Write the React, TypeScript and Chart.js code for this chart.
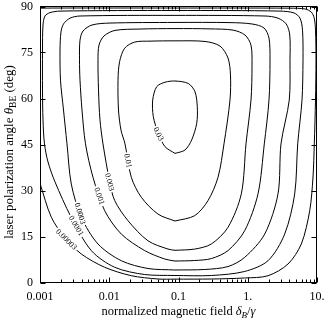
import React, { useEffect, useRef } from 'react';
import { Chart, registerables } from 'chart.js';
Chart.register(...registerables);

// contour levels (innermost first)
const levels = ['0.03', '0.01', '0.003', '0.001', '0.0003', '0.0001', '0.00003'];

// traced contour paths: x = normalized magnetic field, y = angle (deg)
const c1X = [0.089, 0.1241, 0.1551, 0.1832, 0.1868, 0.1731, 0.1385, 0.089, 0.0638, 0.04845, 0.04241, 0.04326, 0.05109, 0.0638, 0.089];
const c1Y = [42.1, 43.2, 46.5, 51.9, 57.3, 62.2, 64.9, 65.7, 65.3, 63.85, 59.5, 54.1, 48.65, 44.3, 42.1];

const c2X = [0.089, 0.1714, 0.2667, 0.3719, 0.4539, 0.5542, 0.563, 0.5186, 0.3975, 0.2414, 0.089, 0.03876, 0.0233, 0.0167, 0.0141, 0.01338, 0.0136, 0.01478, 0.01688, 0.02082, 0.02904, 0.05058, 0.089];
const c2Y = [20.05, 21.8, 26.7, 34.3, 45.2, 59.5, 67.7, 73.2, 77.1, 78.6, 78.8, 78.7, 78.4, 76.4, 72.0, 66.0, 56.25, 49.7, 45.2, 34.3, 27.8, 22.3, 20.05];

const c3X = [0.089, 0.1714, 0.2976, 0.5186, 0.8071, 0.9434, 1.114, 1.152, 1.114, 0.9127, 0.6127, 0.2851, 0.089, 0.0278, 0.01211, 0.0084, 0.00711, 0.00688, 0.006995, 0.00735, 0.008123, 0.01015, 0.01199, 0.01866, 0.03627, 0.07053, 0.089];
const c3Y = [10.5, 10.9, 12.55, 18.0, 28.9, 45.2, 59.5, 70.9, 77.4, 80.7, 82.3, 82.7, 82.8, 82.65, 82.2, 80.4, 77.4, 72.6, 62.8, 53.0, 45.2, 32.8, 26.7, 20.15, 13.6, 10.9, 10.5];

const c4X = [0.089, 0.1714, 0.2976, 0.5186, 0.9035, 1.406, 1.734, 2.027, 2.096, 2.027, 1.717, 1.152, 0.5542, 0.089, 0.01025, 0.005636, 0.004178, 0.003781, 0.003719, 0.003781, 0.004041, 0.004539, 0.005826, 0.0086, 0.01493, 0.0325, 0.06318, 0.089];
const c4Y = [7.0, 7.17, 7.8, 10.4, 16.9, 28.9, 45.2, 59.5, 72.6, 79.7, 83.0, 84.3, 84.75, 84.8, 84.6, 83.97, 82.0, 79.0, 72.6, 66.0, 56.25, 45.2, 34.3, 23.4, 15.8, 10.4, 7.66, 7.0];

const c5X = [0.089, 0.239, 0.5186, 0.9035, 1.757, 2.734, 3.02, 3.975, 4.074, 4.041, 3.597, 2.734, 1.774, 0.089, 0.003781, 0.002712, 0.002185, 0.00201, 0.001945, 0.001977, 0.002185, 0.002454, 0.002831, 0.003948, 0.006879, 0.01493, 0.03627, 0.089];
const c5Y = [4.08, 4.24, 5.2, 8.2, 15.8, 28.9, 45.2, 59.5, 72.6, 80.7, 84.3, 86.2, 86.9, 87.1, 86.9, 86.2, 84.3, 81.7, 75.8, 66.0, 56.25, 45.2, 32.1, 21.3, 12.55, 7.1, 4.56, 4.08];

const c6X = [0.089, 0.2976, 0.9035, 1.96, 3.416, 4.764, 5.264, 6.074, 6.279, 6.176, 5.682, 4.654, 2.922, 0.089, 0.001945, 0.001394, 0.00118, 0.001105, 0.001087, 0.001087, 0.001105, 0.001161, 0.001305, 0.001647, 0.002803, 0.005506, 0.01199, 0.0325, 0.089];
const c6Y = [2.28, 2.28, 3.6, 7.1, 15.8, 28.9, 45.2, 59.5, 72.6, 82.3, 86.2, 87.9, 88.5, 88.7, 88.5, 88.0, 86.9, 83.97, 75.8, 62.8, 53.0, 45.2, 39.3, 32.8, 21.4, 10.4, 4.96, 2.6, 2.28];

// outermost contour enters through the left axis and leaves near the top-left corner
const c7X = [0.001, 0.001456, 0.002273, 0.003948, 0.0086, 0.02082, 0.05058, 0.089, 0.2976, 0.9035, 1.96, 3.813, 5.934, 7.847, 8.756, 9.142, 9.513, 9.674, 9.513, 9.127, 8.26, 6.709, 4.074, 0.089, 0.0015, 0.001];
const c7Y = [32.3, 21.3, 14.7, 9.3, 4.96, 2.22, 1.14, 1.1, 1.14, 1.47, 2.2, 6.03, 12.55, 23.4, 34.4, 45.2, 59.5, 72.6, 82.3, 86.2, 88.2, 89.2, 89.45, 89.5, 89.5, 89.45];

// contour label anchor positions
const labelX = [0.0482, 0.01866, 0.01025, 0.00665, 0.00447, 0.0031, 0.00222];
const labelY = [48.1, 39.7, 32.8, 27.9, 23.0, 18.1, 13.2];

// axes
const xTicks = [0.001, 0.01, 0.1, 1, 10];
const xTickLabels = ['0.001', '0.01', '0.1', '1.', '10.'];
const yTicks = [0, 15, 30, 45, 60, 75, 90];
const yTickLabels = ['0', '15', '30', '45', '60', '75', '90'];

const contours = [
  { x: c1X, y: c1Y }, { x: c2X, y: c2Y }, { x: c3X, y: c3Y }, { x: c4X, y: c4Y },
  { x: c5X, y: c5Y }, { x: c6X, y: c6Y }, { x: c7X, y: c7Y },
];

const SERIF = '"Liberation Serif", "Times New Roman", serif';

type Run = { t: string; font: string; dy?: number };

function drawRuns(ctx: CanvasRenderingContext2D, runs: Run[], cx: number, baseY: number) {
  let total = 0;
  const widths = runs.map((r) => { ctx.font = r.font; const w = ctx.measureText(r.t).width; total += w; return w; });
  let x = cx - total / 2;
  ctx.textAlign = 'left';
  ctx.textBaseline = 'alphabetic';
  runs.forEach((r, i) => {
    ctx.font = r.font;
    ctx.fillText(r.t, x, baseY + (r.dy || 0));
    x += widths[i];
  });
}

const decorPlugin = {
  id: 'decor',
  afterDatasetsDraw(chart: any) {
    const ctx: CanvasRenderingContext2D = chart.ctx;
    const xs = chart.scales.x;
    const ys = chart.scales.y;
    const { left, right, top, bottom } = chart.chartArea;
    ctx.save();
    // contour labels
    ctx.font = `8px ${SERIF}`;
    contours.forEach((c, k) => {
      const px = c.x.map((v) => xs.getPixelForValue(v));
      const py = c.y.map((v) => ys.getPixelForValue(v));
      const lx = xs.getPixelForValue(labelX[k]);
      const ly = ys.getPixelForValue(labelY[k]);
      let best = Infinity, bx = lx, by = ly, ang = 0;
      for (let i = 0; i < px.length - 1; i++) {
        const ax = px[i], ay = py[i], dx = px[i + 1] - ax, dy = py[i + 1] - ay;
        const L = dx * dx + dy * dy;
        if (!L) continue;
        let t = ((lx - ax) * dx + (ly - ay) * dy) / L;
        t = Math.max(0, Math.min(1, t));
        const qx = ax + t * dx, qy = ay + t * dy;
        const d = (qx - lx) ** 2 + (qy - ly) ** 2;
        if (d < best) { best = d; bx = qx; by = qy; ang = Math.atan2(dy, dx); }
      }
      if (ang > Math.PI / 2) ang -= Math.PI;
      if (ang < -Math.PI / 2) ang += Math.PI;
      const w = ctx.measureText(levels[k]).width;
      ctx.save();
      ctx.translate(bx, by);
      ctx.rotate(ang);
      ctx.fillStyle = '#fff';
      ctx.fillRect(-w / 2 - 1.5, -4, w + 3, 8);
      ctx.fillStyle = '#000';
      ctx.textAlign = 'center';
      ctx.textBaseline = 'middle';
      ctx.fillText(levels[k], 0, 0.5);
      ctx.restore();
    });
    // frame
    const L0 = Math.floor(left) + 0.5, R0 = Math.floor(right) - 0.5;
    const T0 = Math.floor(top) + 0.5, B0 = Math.floor(bottom) + 0.5;
    ctx.strokeStyle = '#000';
    ctx.lineWidth = 1;
    ctx.strokeRect(L0, T0, R0 - L0, B0 - T0);
    // ticks (inward, mirrored)
    ctx.beginPath();
    xTicks.forEach((v, i) => {
      const p = Math.round(xs.getPixelForValue(v)) + 0.5;
      ctx.moveTo(p, B0); ctx.lineTo(p, B0 - 5);
      ctx.moveTo(p, T0); ctx.lineTo(p, T0 + 5);
      if (i < xTicks.length - 1) {
        for (let m = 2; m <= 9; m++) {
          const q = Math.round(xs.getPixelForValue(v * m)) + 0.5;
          ctx.moveTo(q, B0); ctx.lineTo(q, B0 - 3);
          ctx.moveTo(q, T0); ctx.lineTo(q, T0 + 3);
        }
      }
    });
    yTicks.forEach((v) => {
      const p = Math.round(ys.getPixelForValue(v)) + 0.5;
      ctx.moveTo(L0, p); ctx.lineTo(L0 + 5, p);
      ctx.moveTo(R0, p); ctx.lineTo(R0 - 5, p);
    });
    ctx.stroke();
    ctx.restore();
  },
  afterDraw(chart: any) {
    const ctx: CanvasRenderingContext2D = chart.ctx;
    const { left, right } = chart.chartArea;
    ctx.save();
    ctx.fillStyle = '#000';
    const fs = 12.5;
    const normal = `${fs}px ${SERIF}`;
    const ital = `italic ${fs}px ${SERIF}`;
    const subIt = `italic 9px ${SERIF}`;
    drawRuns(ctx, [
      { t: 'normalized magnetic field ', font: normal },
      { t: 'δ', font: ital },
      { t: 'B', font: subIt, dy: 3 },
      { t: '/', font: normal },
      { t: 'γ', font: ital },
    ], (left + right) / 2, 315);
    const fy = 13;
    ctx.save();
    ctx.translate(12.5, 152);
    ctx.rotate(-Math.PI / 2);
    drawRuns(ctx, [
      { t: 'laser polarization angle ', font: `${fy}px ${SERIF}` },
      { t: 'θ', font: `italic ${fy}px ${SERIF}` },
      { t: 'BE', font: `9.5px ${SERIF}`, dy: 3 },
      { t: ' (deg)', font: `${fy}px ${SERIF}` },
    ], 0, 0);
    ctx.restore();
    ctx.restore();
  },
};

export default function App() {
  const ref = useRef<HTMLCanvasElement | null>(null);
  useEffect(() => {
    document.body.style.margin = '0';
    const canvas = ref.current;
    if (!canvas) return;
    const datasets = contours.map((c, k) => ({
      label: levels[k],
      data: c.x.map((v, i) => ({ x: v, y: c.y[i] })),
      showLine: true,
      borderColor: '#000',
      borderWidth: 1,
      pointRadius: 0,
      tension: 0.3,
      fill: false,
    }));
    const chart = new Chart(canvas, {
      type: 'scatter',
      data: { datasets },
      options: {
        animation: false,
        responsive: false,
        devicePixelRatio: 1,
        layout: { padding: { left: 0, right: 10, top: 6.5, bottom: 0 } },
        plugins: { legend: { display: false }, tooltip: { enabled: false } },
        scales: {
          x: {
            type: 'logarithmic',
            min: 0.001,
            max: 10,
            grid: { display: false, drawTicks: false },
            border: { display: false },
            afterBuildTicks: (s: any) => { s.ticks = xTicks.map((v) => ({ value: v })); },
            afterFit: (s: any) => { s.height = 39.5; s.paddingLeft = 0; s.paddingRight = 0; },
            ticks: {
              autoSkip: false,
              maxRotation: 0,
              padding: 7,
              color: '#000',
              font: { family: SERIF, size: 12 },
              callback: (_v: any, i: number) => xTickLabels[i],
            },
          },
          y: {
            type: 'linear',
            min: 0,
            max: 90,
            grid: { display: false, drawTicks: false },
            border: { display: false },
            afterBuildTicks: (s: any) => { s.ticks = yTicks.map((v) => ({ value: v })); },
            afterFit: (s: any) => { s.width = 40; s.paddingTop = 0; s.paddingBottom = 0; },
            ticks: {
              autoSkip: false,
              padding: 7,
              color: '#000',
              font: { family: SERIF, size: 12 },
              callback: (_v: any, i: number) => yTickLabels[i],
            },
          },
        },
      },
      plugins: [decorPlugin],
    } as any);
    return () => chart.destroy();
  }, []);
  return (
    <div style={{ width: 327, height: 322, background: '#fff' }}>
      <canvas ref={ref} width={327} height={322} style={{ display: 'block' }} />
    </div>
  );
}
